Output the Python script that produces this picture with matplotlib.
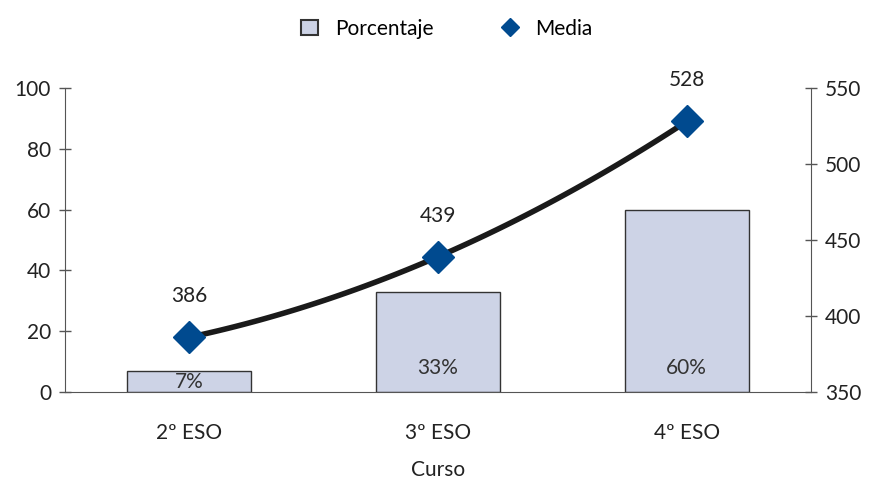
import numpy as np
import matplotlib.pyplot as plt
from matplotlib.lines import Line2D
from matplotlib.patches import Patch

plt.rcParams['font.family'] = ['Lato', 'DejaVu Sans']

cursos = ['2º ESO', '3º ESO', '4º ESO']
porcentaje = [7, 33, 60]
media = [386, 439, 528]
etiquetas_pct = ['7%', '33%', '60%']

bar_color = '#cdd3e6'
diamond_color = '#004a8f'
axis_color = '#555555'

fig = plt.figure(figsize=(8.73, 4.79), dpi=100)
ax = fig.add_axes([65/873, 87/479, 746/873, 304/479])
x = np.arange(len(cursos))

ax.bar(x, porcentaje, width=0.5, color=bar_color, edgecolor='#333333', linewidth=1, zorder=2)
for xi, p, lab in zip(x, porcentaje, etiquetas_pct):
    yl = 3.3 if p < 10 else 8
    ax.text(xi, yl, lab, ha='center', va='center', fontsize=15, color='#333333', zorder=3)

ax.set_xlim(-0.5, 2.5)
ax.set_ylim(0, 100)
ax.set_yticks([0, 20, 40, 60, 80, 100])
ax.set_xticks(x)
ax.set_xticklabels(cursos)
ax.tick_params(axis='x', length=0, pad=22, labelsize=15, colors='#222222')
ax.tick_params(axis='y', direction='inout', length=8, width=1, color=axis_color,
               labelsize=15, labelcolor='#222222', pad=6)
for s in ['top', 'right']:
    ax.spines[s].set_visible(False)
ax.spines['left'].set_color(axis_color)
ax.spines['bottom'].set_color(axis_color)
fig.text(438/873, 1 - 470/479, 'Curso', ha='center', va='center', fontsize=15, color='#222222')

ax2 = ax.twinx()
ax2.set_ylim(350, 550)
ax2.set_yticks([350, 400, 450, 500, 550])
for s in ['top', 'left', 'bottom']:
    ax2.spines[s].set_visible(False)
ax2.spines['right'].set_color(axis_color)
ax2.tick_params(axis='y', direction='inout', length=8, width=1, color=axis_color,
                labelsize=15, labelcolor='#222222', pad=6)

# smooth curve through the three means
coef = np.polyfit(x, media, 2)
xs = np.linspace(x[0], x[-1], 100)
ax2.plot(xs, np.polyval(coef, xs), color='#1a1a1a', linewidth=4, zorder=3,
         solid_capstyle='round')
ax2.plot(x, media, linestyle='none', marker='D', markersize=16, color=diamond_color, zorder=4)
for xi, m in zip(x, media):
    ax2.text(xi, m + 27, str(m), ha='center', va='center', fontsize=15, color='#222222')

handles = [Patch(facecolor=bar_color, edgecolor='#333333', linewidth=1.5),
           Line2D([], [], linestyle='none', marker='D', markersize=9, color=diamond_color)]
fig.legend(handles, ['Porcentaje', 'Media'], loc='center', bbox_to_anchor=(0.512, 0.94),
           ncol=2, frameon=False, fontsize=15, handlelength=0.8, handleheight=0.8,
           columnspacing=3.3)

fig.savefig('out.png', dpi=100)
